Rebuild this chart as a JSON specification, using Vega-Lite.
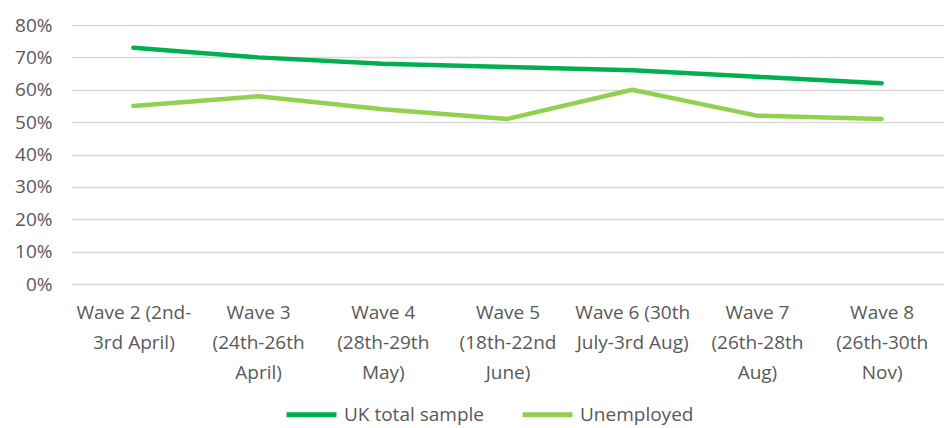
{
  "$schema": "https://vega.github.io/schema/vega-lite/v6.json",
  "width": 873,
  "height": 259,
  "autosize": {"type": "none"},
  "padding": {"left": 71, "top": 25, "right": 0, "bottom": 144},
  "background": "white",
  "config": {"view": {"stroke": null}, "font": "Open Sans"},
  "data": {
    "values": [
      {"wave": "Wave 2 (2nd-|3rd April)", "series": "UK total sample", "value": 0.73},
      {"wave": "Wave 3|(24th-26th|April)", "series": "UK total sample", "value": 0.70},
      {"wave": "Wave 4|(28th-29th|May)", "series": "UK total sample", "value": 0.68},
      {"wave": "Wave 5|(18th-22nd|June)", "series": "UK total sample", "value": 0.67},
      {"wave": "Wave 6 (30th|July-3rd Aug)", "series": "UK total sample", "value": 0.66},
      {"wave": "Wave 7|(26th-28th|Aug)", "series": "UK total sample", "value": 0.64},
      {"wave": "Wave 8|(26th-30th|Nov)", "series": "UK total sample", "value": 0.62},
      {"wave": "Wave 2 (2nd-|3rd April)", "series": "Unemployed", "value": 0.55},
      {"wave": "Wave 3|(24th-26th|April)", "series": "Unemployed", "value": 0.58},
      {"wave": "Wave 4|(28th-29th|May)", "series": "Unemployed", "value": 0.54},
      {"wave": "Wave 5|(18th-22nd|June)", "series": "Unemployed", "value": 0.51},
      {"wave": "Wave 6 (30th|July-3rd Aug)", "series": "Unemployed", "value": 0.60},
      {"wave": "Wave 7|(26th-28th|Aug)", "series": "Unemployed", "value": 0.52},
      {"wave": "Wave 8|(26th-30th|Nov)", "series": "Unemployed", "value": 0.51}
    ]
  },
  "mark": {"type": "line", "strokeCap": "round", "strokeJoin": "round", "strokeWidth": 4.5},
  "encoding": {
    "x": {
      "field": "wave",
      "type": "ordinal",
      "sort": null,
      "scale": {"type": "point", "padding": 0.5},
      "axis": {
        "title": null,
        "labelExpr": "split(datum.label, '|')",
        "labelAngle": 0,
        "ticks": false,
        "domain": false,
        "grid": false,
        "labelFontSize": 19,
        "labelColor": "#595959",
        "labelLineHeight": 30,
        "labelPadding": 19,
        "labelBaseline": "top",
        "labelOverlap": false,
        "labelBound": false,
        "labelLimit": 0
      }
    },
    "y": {
      "field": "value",
      "type": "quantitative",
      "scale": {"domain": [0, 0.8]},
      "axis": {
        "title": null,
        "values": [0, 0.1, 0.2, 0.3, 0.4, 0.5, 0.6, 0.7, 0.8],
        "format": ".0%",
        "ticks": false,
        "domain": false,
        "grid": true,
        "gridColor": "#d9d9d9",
        "gridWidth": 1.5,
        "labelFontSize": 19,
        "labelColor": "#595959",
        "labelPadding": 19
      }
    },
    "color": {
      "field": "series",
      "type": "nominal",
      "scale": {"domain": ["UK total sample", "Unemployed"], "range": ["#00B050", "#92D050"]},
      "legend": {
        "title": null,
        "orient": "none",
        "legendX": 213,
        "legendY": 362,
        "direction": "horizontal",
        "symbolType": "stroke",
        "symbolSize": 2500,
        "symbolStrokeWidth": 5,
        "labelFontSize": 19,
        "labelColor": "#595959",
        "labelOffset": 5,
        "columnPadding": 28
      }
    }
  }
}
